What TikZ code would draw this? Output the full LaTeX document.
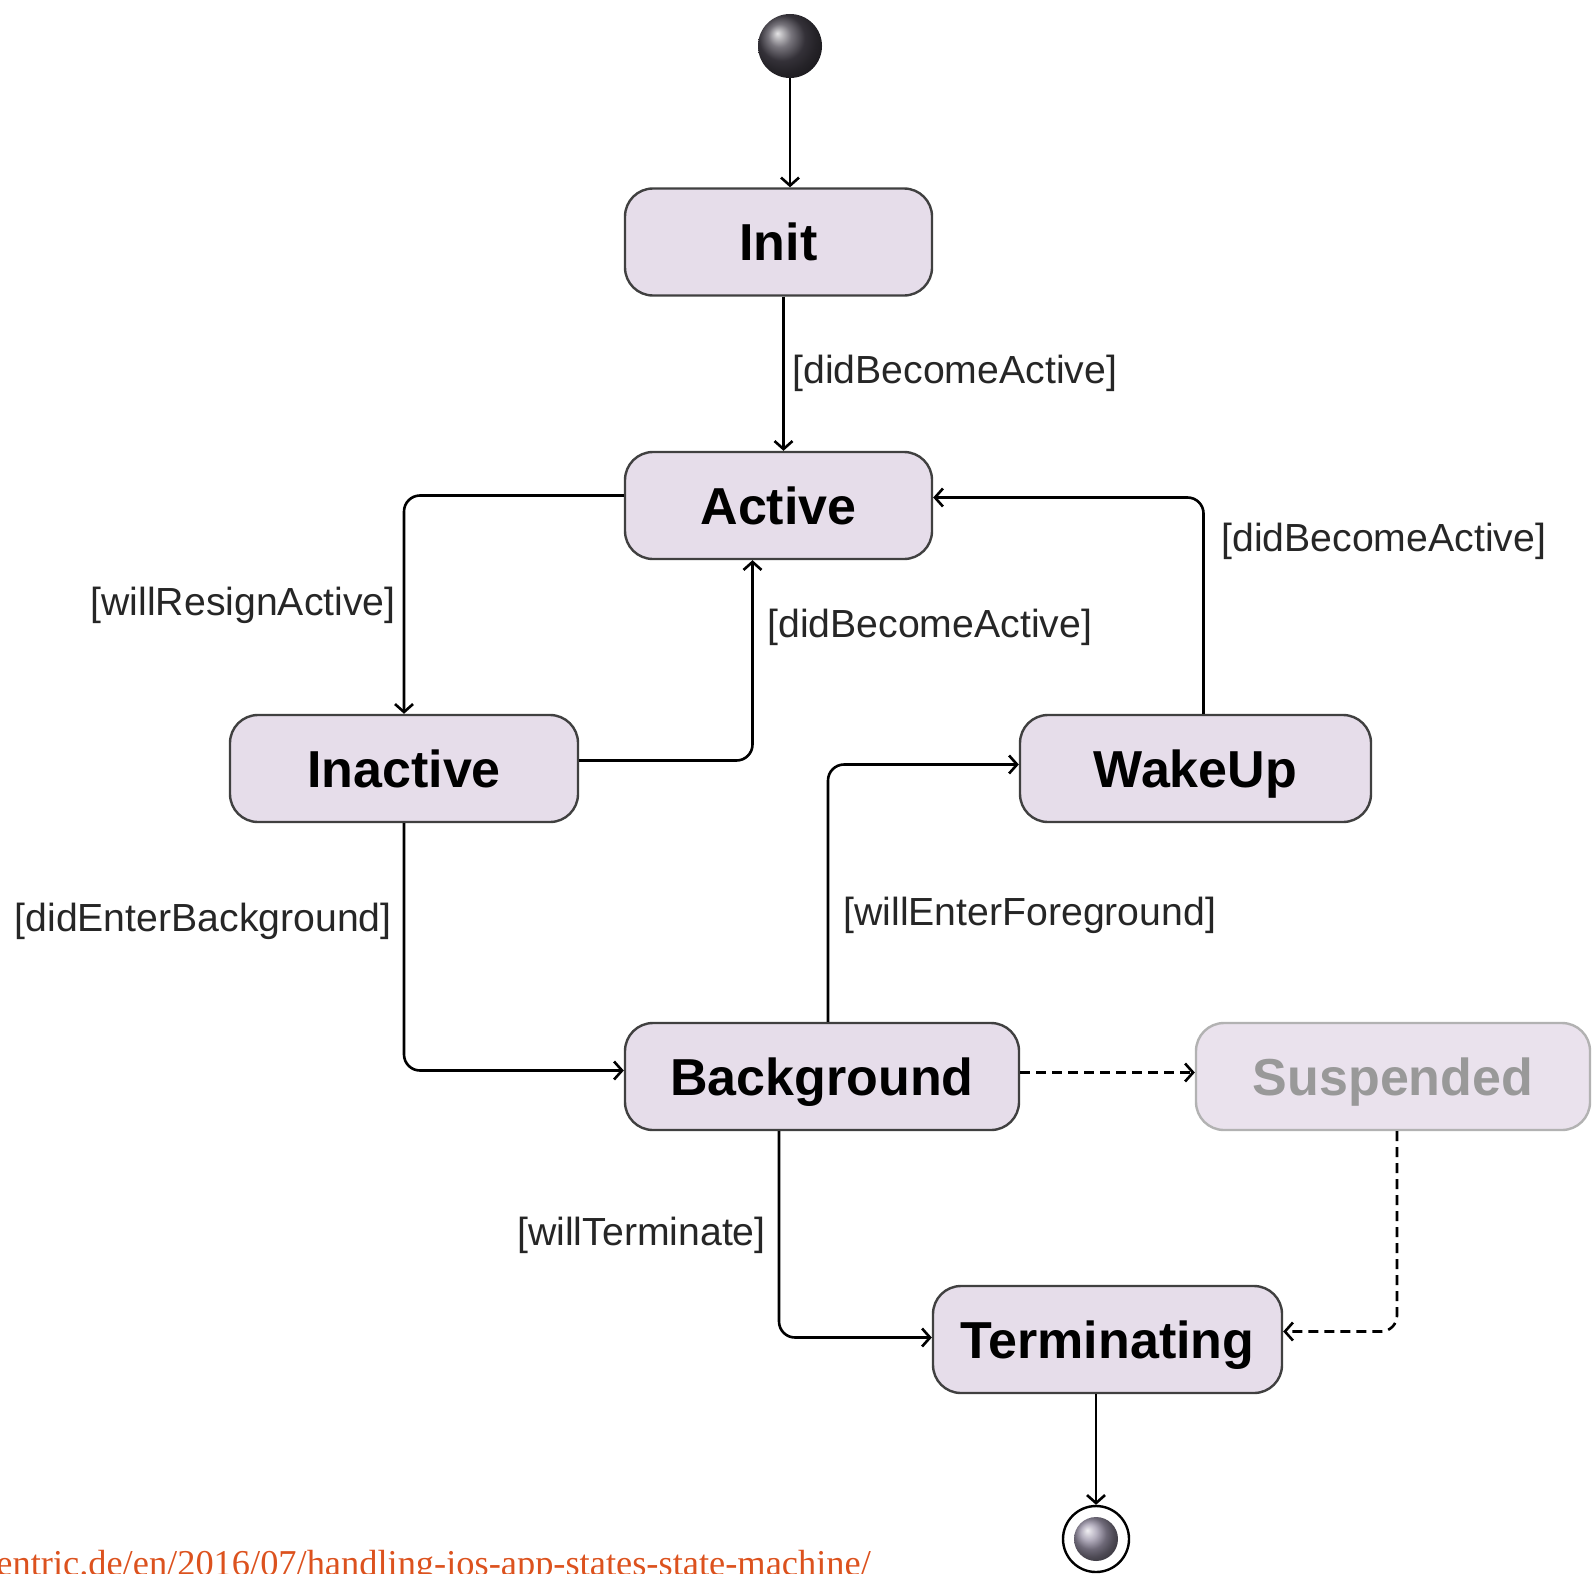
\documentclass[tikz,border=0pt]{standalone}
\usepackage{fontspec}
\setmainfont{Liberation Sans}
\newfontfamily\urlfont{Liberation Serif}
\usetikzlibrary{arrows.meta}
\definecolor{statefill}{HTML}{E6DDEA}
\definecolor{stateline}{HTML}{404040}
\definecolor{urlred}{HTML}{DC521E}
\definecolor{startball}{HTML}{4A4650}
\definecolor{finalball}{HTML}{9C95AA}
\tikzset{
  statebox/.style={draw=stateline, fill=statefill, line width=1.2pt, rounded corners=14pt,
    minimum height=53.5pt, text depth=0pt, font=\fontsize{26}{30}\selectfont\bfseries},
  guard/.style={font=\fontsize{19.6}{23}\selectfont, text=black!85, inner sep=0pt},
  trans/.style={line width=1.3pt, -{Straight Barb[length=4pt,width=9pt]}, rounded corners=8pt},
  weak/.style={dash pattern=on 5pt off 3pt},
}

\begin{document}
\begin{tikzpicture}[x=0.5pt,y=-0.5pt]
\useasboundingbox (0,0) rectangle (1593,1573);
\node[circle, minimum size=32pt, inner sep=0pt, shading=ball, ball color=startball] (start) at (790,46) {};
\node[statebox, minimum width=153.5pt] (init) at (778.5,242) {Init};
\node[statebox, minimum width=153.5pt] (active) at (778.5,505.5) {Active};
\node[statebox, minimum width=174pt] (inactive) at (404,768.5) {Inactive};
\node[statebox, minimum width=175.5pt] (wakeup) at (1195.5,768.5) {WakeUp};
\node[statebox, minimum width=197pt] (background) at (822,1076.5) {Background};
\node[statebox, minimum width=197pt, draw=black!30, fill=statefill!85, text=black!40] (suspended) at (1393,1076.5) {Suspended};
\node[statebox, minimum width=174.5pt] (terminating) at (1107.5,1339.5) {Terminating};
\node[circle, draw, line width=1.2pt, minimum size=33pt, inner sep=0pt] (final) at (1096,1539) {};
\node[circle, minimum size=22pt, inner sep=0pt, shading=ball, ball color=finalball] (finalcore) at (final) {};

\draw[trans] (start.south) -- (start.south |- init.north);
\draw[trans] ([xshift=2.5pt]init.south) -- ([xshift=2.5pt]active.north);
\draw[trans] ([yshift=5pt]active.west) -| (inactive.north);
\draw[trans] ([yshift=4pt]inactive.east) -| ([xshift=-13pt]active.south);
\draw[trans] ([xshift=4pt]wakeup.north) |- ([yshift=4pt]active.east);
\draw[trans] (inactive.south) |- ([yshift=3pt]background.west);
\draw[trans] ([xshift=3pt]background.north) |- ([yshift=2pt]wakeup.west);
\draw[trans, weak] ([yshift=2pt]background.east) -- ([yshift=2pt]suspended.west);
\draw[trans, weak] ([xshift=2pt]suspended.south) |- ([yshift=4pt]terminating.east);
\draw[trans] ([xshift=-21.5pt]background.south) |- ([yshift=1pt]terminating.west);
\draw[trans] (terminating.south -| final.north) -- (final.north);

\node[guard, anchor=west] (g1) at (792,373) {[didBecomeActive]};
\node[guard, anchor=east] (g2) at (396,605) {[willResignActive]};
\node[guard, anchor=west] (g3) at (767,627) {[didBecomeActive]};
\node[guard, anchor=west] (g4) at (1221,541) {[didBecomeActive]};
\node[guard, anchor=east] (g5) at (392,921) {[didEnterBackground]};
\node[guard, anchor=west] (g6) at (843,915) {[willEnterForeground]};
\node[guard, anchor=east] (g7) at (766,1235) {[willTerminate]};

\node[anchor=base west, inner sep=0pt, text=urlred, font=\urlfont\fontsize{18.2}{20}\selectfont] (source) at (-4,1575) {entric.de/en/2016/07/handling-ios-app-states-state-machine/};
\end{tikzpicture}
\end{document}
